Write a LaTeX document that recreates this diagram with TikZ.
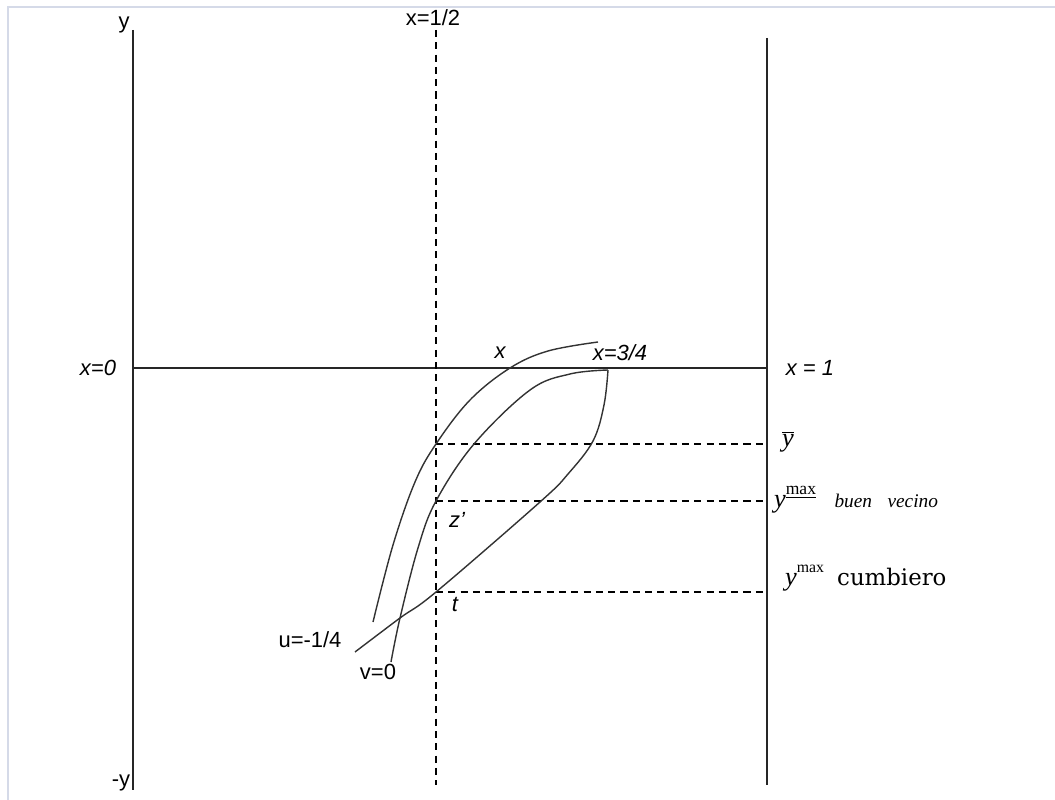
\documentclass[tikz,border=0pt]{standalone}
\usepackage{fontspec}
\setmainfont{Liberation Sans}
\newfontfamily\timesfont{Liberation Serif}
\newfontfamily\widefont{DejaVu Serif}
\usepackage{tikz}
\usetikzlibrary{positioning,calc}
\definecolor{FrameGray}{HTML}{D5DAE8}

\begin{document}
\begin{tikzpicture}[x=0.02cm,y=-0.02cm,
    every node/.style={font=\fontsize{12.5}{14}\selectfont,inner sep=1pt},
    axisline/.style={line width=0.9pt,black!85},
    guide/.style={dashed,line width=0.7pt,dash pattern=on 4pt off 3pt},
    curveline/.style={line width=0.8pt,black!80},
    itlabel/.style={font=\fontsize{12.5}{14}\selectfont\itshape}]
  \useasboundingbox (0,0) rectangle (1055,800);
  % screenshot frame
  \draw[FrameGray,line width=1.2pt] (8,800) -- (8,7) -- (1055,7);
  % axes
  \coordinate (ytop) at (133,30);   \coordinate (ybot) at (133,790);
  \coordinate (htop) at (436,30);   \coordinate (hbot) at (436,785);
  \coordinate (rtop) at (767,38);   \coordinate (rbot) at (767,785);
  \coordinate (x0) at (133,368);    \coordinate (x1) at (767,368);
  \draw[axisline] (ytop) -- (ybot);
  \draw[axisline] (rtop) -- (rbot);
  \draw[axisline] (x0) -- (x1);
  \draw[guide] (htop) -- (hbot);
  \node (ylab) at (124,25) {y};
  \node (mylab) at (121,783) {-y};
  \node (half) at (433,18) {x=1/2};
  \node[itlabel] (xzero) at (98,368) {x=0};
  \node[itlabel] (xone) at (810,368) {x = 1};
  % levels
  \coordinate (ybar) at (436,444);  \coordinate (ybarR) at (767,444);
  \coordinate (zp) at (436,501);    \coordinate (zpR) at (767,501);
  \coordinate (tt) at (436,592);    \coordinate (ttR) at (767,592);
  \draw[guide] (ybar) -- (ybarR);
  \draw[guide] (zp) -- (zpR);
  \draw[guide] (tt) -- (ttR);
  \node[font=\fontsize{15}{17}\selectfont\timesfont\itshape] (ybarlab) at (788,442) {$\overline{\mbox{y}}$};
  \node[anchor=west] (bvlab) at (772,500) {\timesfont\fontsize{15}{17}\selectfont\itshape y\raisebox{1.1ex}{\upshape\fontsize{10}{12}\selectfont\underline{max}}\hspace{0.7em}\fontsize{11}{13}\selectfont buen\hspace{0.8em}vecino};
  \node[anchor=west] (cblab) at (783,578) {\timesfont\fontsize{15}{17}\selectfont\itshape y\raisebox{1.1ex}{\upshape\fontsize{9}{11}\selectfont max}\hspace{0.5em}\widefont\upshape\fontsize{13}{15}\selectfont cumbiero};
  % curves
  \coordinate (top) at (608,370);
  \draw[curveline] plot[smooth,tension=0.6] coordinates
    {(373,622) (393,545) (415,482) (ybar) (470,400) (510,368) (548,351) (598,342)};
  \draw[curveline] plot[smooth,tension=0.6] coordinates
    {(391,662) (400,618) (418,548) (zp) (474,444) (530,390) (570,374) (top)};
  \draw[curveline] plot[smooth,tension=0.6] coordinates
    {(top) (604,405) (593,441) (568,474) (540,502) (tt) (400,618) (355,652)};
  \node[itlabel] (xlab) at (500,353) {x};
  \node[itlabel] (xtq) at (620,353) {x=3/4};
  \node[itlabel] (zlab) at (457,520) {z'};
  \node[itlabel] (tlab) at (455,605) {t};
  \node (ulab) at (310,640) {u=-1/4};
  \node (vlab) at (378,672) {v=0};
\end{tikzpicture}
\end{document}
